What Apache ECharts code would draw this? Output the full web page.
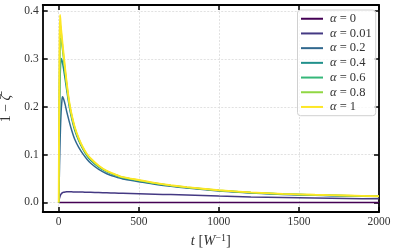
<!DOCTYPE html>
<html><head><meta charset="utf-8">
<script src="https://cdn.jsdelivr.net/npm/echarts@6/dist/echarts.min.js"></script>
<style>html,body{margin:0;padding:0;background:#fff}#c{width:397px;height:251px}</style>
</head><body><div id="c"></div>
<script>
const t = [0, 2, 5, 8, 10, 12, 15, 20, 23, 30, 40, 50, 65, 80, 100, 125, 150, 175, 200, 250, 300, 350, 400, 500, 600, 700, 800, 1000, 1200, 1400, 1600, 1800, 2000];
const a0 = t.map(() => 0);
const a001 = [0, 0.004, 0.009, 0.0125, 0.0145, 0.016, 0.0175, 0.0195, 0.0203, 0.0213, 0.022, 0.0222, 0.0222, 0.0221, 0.022, 0.0218, 0.0216, 0.0214, 0.0212, 0.0207, 0.0202, 0.0197, 0.0192, 0.0182, 0.0173, 0.0164, 0.0155, 0.0133, 0.0115, 0.0102, 0.0092, 0.0083, 0.0075];
const a02 = [0, 0.025, 0.075, 0.12, 0.145, 0.165, 0.19, 0.213, 0.221, 0.217, 0.205, 0.19, 0.17, 0.152, 0.132, 0.115, 0.102, 0.091, 0.082, 0.069, 0.06, 0.054, 0.049, 0.0435, 0.038, 0.0337, 0.03, 0.0239, 0.0197, 0.0168, 0.0149, 0.0134, 0.0122];
const a04 = [0, 0.06, 0.17, 0.245, 0.272, 0.289, 0.301, 0.298, 0.293, 0.28, 0.258, 0.235, 0.202, 0.177, 0.151, 0.129, 0.112, 0.098, 0.088, 0.074, 0.064, 0.057, 0.051, 0.0455, 0.0395, 0.035, 0.0312, 0.0248, 0.0205, 0.0175, 0.0155, 0.014, 0.0127];
const a06 = [0, 0.09, 0.24, 0.315, 0.335, 0.343, 0.34, 0.33, 0.322, 0.302, 0.273, 0.245, 0.208, 0.182, 0.155, 0.132, 0.114, 0.1, 0.09, 0.0755, 0.065, 0.058, 0.052, 0.046, 0.04, 0.0354, 0.0315, 0.0251, 0.0207, 0.0177, 0.0157, 0.0142, 0.0128];
const a08 = [0, 0.12, 0.29, 0.36, 0.371, 0.368, 0.358, 0.34, 0.33, 0.308, 0.277, 0.248, 0.21, 0.184, 0.157, 0.133, 0.115, 0.101, 0.091, 0.076, 0.0655, 0.0585, 0.0525, 0.0465, 0.0405, 0.0357, 0.0318, 0.0253, 0.0209, 0.0179, 0.0159, 0.0144, 0.0129];
const a1 = [0, 0.15, 0.33, 0.392, 0.385, 0.375, 0.362, 0.345, 0.335, 0.312, 0.28, 0.25, 0.212, 0.185, 0.158, 0.134, 0.116, 0.102, 0.092, 0.077, 0.066, 0.059, 0.053, 0.047, 0.041, 0.036, 0.032, 0.0255, 0.021, 0.018, 0.016, 0.0145, 0.013];
const seriesNames = ['0', '0.01', '0.2', '0.4', '0.6', '0.8', '1'];
const seriesValues = [a0, a001, a02, a04, a06, a08, a1];
const colors = ['#440154', '#443983', '#31688e', '#21918c', '#35b779', '#90d743', '#fde725'];
const xTicks = [0, 500, 1000, 1500, 2000];
const yTicks = [0, 0.1, 0.2, 0.3, 0.4];

const FONT = '"Liberation Serif", "DejaVu Serif", serif';
const chart = echarts.init(document.getElementById('c'));
const frame = { show: true, onZero: false, lineStyle: { color: '#000', width: 1.8 } };
const tick = { show: true, inside: true, length: 5, lineStyle: { color: '#000', width: 1.5 } };
const grid = { show: true, lineStyle: { color: '#d9d9d9', width: 0.8, type: [2, 1.5] } };
const labelStyle = { fontFamily: FONT, fontSize: 11.5, color: '#333' };

const series = seriesNames.map((n, i) => ({
  name: 'α = ' + n,
  type: 'line',
  data: t.map((x, j) => [x, seriesValues[i][j]]),
  showSymbol: false,
  symbol: 'none',
  smooth: 0.2,
  lineStyle: { color: colors[i], width: i === 6 ? 1.9 : 1.5 },
  itemStyle: { color: colors[i] },
  z: 2 + i
}));

chart.setOption({
  animation: false,
  grid: { left: 42.7, right: 18, top: 5, bottom: 39, containLabel: false, outerBoundsMode: 'none' },
  legend: {
    orient: 'vertical',
    left: 297.5, top: 10,
    padding: [2, 4, 2, 3.5],
    itemWidth: 22, itemHeight: 2, itemGap: 1.2,
    icon: 'rect',
    borderColor: '#d0d0d0', borderWidth: 1, borderRadius: 3,
    backgroundColor: 'rgba(255,255,255,0.8)',
    textStyle: { fontFamily: FONT, fontSize: 12.5, color: '#333', lineHeight: 13.5, padding: [0, 0, 0, 2],
      rich: { a: { fontFamily: FONT, fontSize: 12.5, fontStyle: 'italic', color: '#333', lineHeight: 13.5 } } },
    formatter: name => '{a|α}' + name.slice(1),
    data: series.map(s => s.name)
  },
  xAxis: [{
    type: 'value', min: -100, max: 2000, position: 'bottom',
    axisLine: frame,
    axisTick: Object.assign({ customValues: xTicks }, tick),
    axisLabel: Object.assign({ customValues: xTicks, margin: 4, formatter: v => String(v) }, labelStyle),
    splitLine: grid,
    name: '{i|t} [{i|W}{s|−1}]',
    nameLocation: 'middle', nameGap: 17,
    nameTextStyle: { fontFamily: FONT, fontSize: 14.5, color: '#333',
      rich: { i: { fontFamily: FONT, fontSize: 14.5, fontStyle: 'italic', color: '#333' },
              s: { fontFamily: FONT, fontSize: 10, color: '#333', padding: [0, 0, 7, 0] } } }
  }, {
    type: 'value', min: -100, max: 2000, position: 'top',
    axisLine: frame,
    axisTick: Object.assign({ customValues: xTicks }, tick),
    axisLabel: { show: false },
    splitLine: { show: false }
  }],
  yAxis: [{
    type: 'value', min: -0.02, max: 0.413, position: 'left',
    axisLine: frame,
    axisTick: Object.assign({ customValues: yTicks }, tick),
    axisLabel: Object.assign({ customValues: yTicks, margin: 4, formatter: v => v.toFixed(1) }, labelStyle),
    splitLine: grid,
    name: '1 − {z|ζ̄}',
    nameLocation: 'middle', nameGap: 21, nameRotate: 90,
    nameTextStyle: { fontFamily: FONT, fontSize: 14, color: '#333',
      rich: { z: { fontFamily: FONT, fontSize: 14, fontStyle: 'italic', color: '#333' } } }
  }, {
    type: 'value', min: -0.02, max: 0.413, position: 'right',
    axisLine: frame,
    axisTick: Object.assign({ customValues: yTicks }, tick),
    axisLabel: { show: false },
    splitLine: { show: false }
  }],
  series: series
});
</script></body></html>
